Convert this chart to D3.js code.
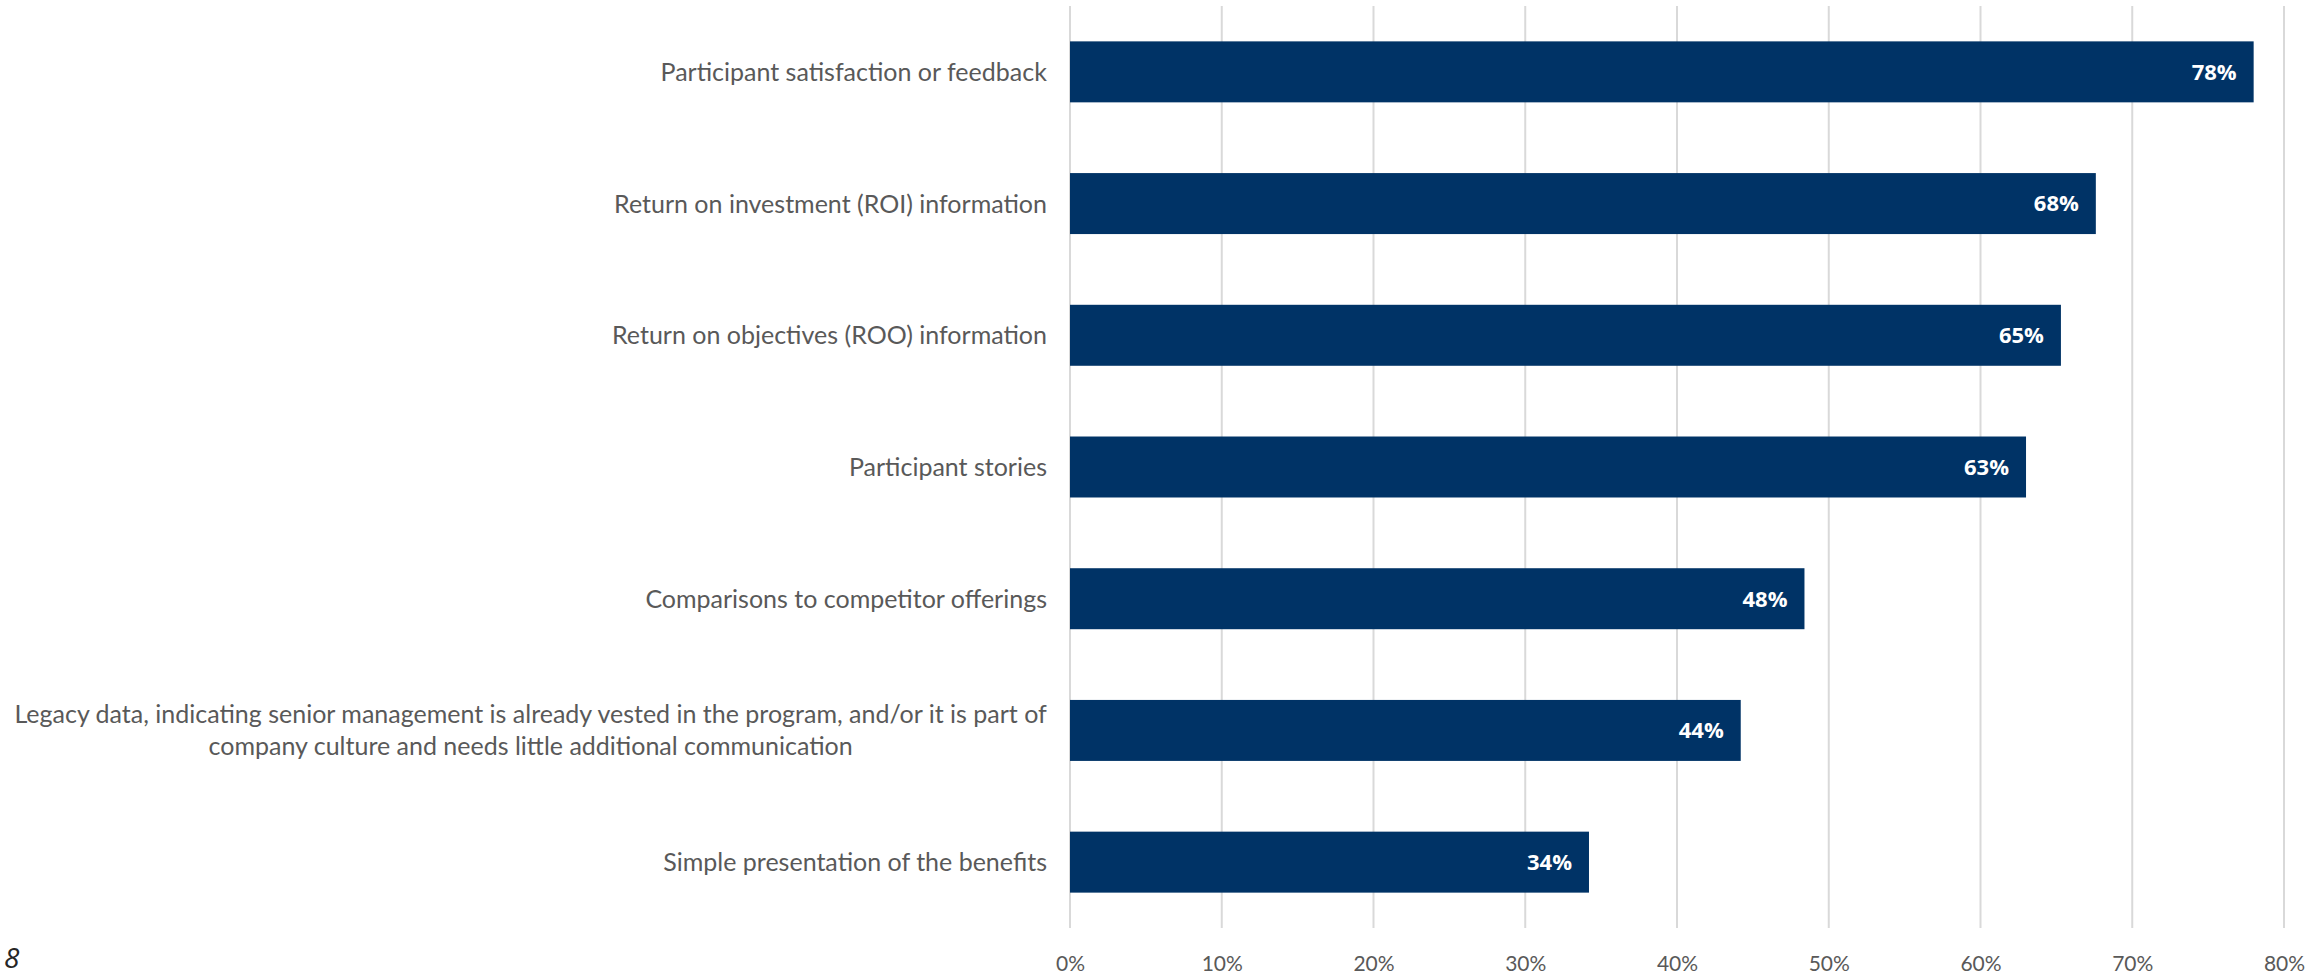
<!DOCTYPE html>
<html>
<head>
<meta charset="utf-8">
<script src="https://cdn.jsdelivr.net/npm/d3@7/dist/d3.min.js"></script>
<style>
  html, body { margin: 0; padding: 0; background: #fff; }
  svg { display: block; }
</style>
</head>
<body>
<svg id="chart" width="2320" height="976"></svg>
<script>
// ---- data ----
const categories = [
  ["Participant satisfaction or feedback"],
  ["Return on investment (ROI) information"],
  ["Return on objectives (ROO) information"],
  ["Participant stories"],
  ["Comparisons to competitor offerings"],
  ["Legacy data, indicating senior management is already vested in the program, and/or it is part of",
   "company culture and needs little additional communication"],
  ["Simple presentation of the benefits"]
];
const values = [78, 67.6, 65.3, 63, 48.4, 44.2, 34.2];
const valueLabels = ["78%", "68%", "65%", "63%", "48%", "44%", "34%"];
const tickValues = [0, 10, 20, 30, 40, 50, 60, 70, 80];
const pageNumber = "8";

(function () {
// ---- layout ----
const svg = d3.select("#chart");
const plotLeft = 1070, plotRight = 2284, plotTop = 6, plotBottom = 928;

const x = d3.scaleLinear().domain([0, 80]).range([plotLeft, plotRight]);
const y = d3.scaleBand()
  .domain(d3.range(categories.length))
  .range([plotTop, plotBottom])
  .paddingInner(0.537)
  .paddingOuter(0.537 / 2);

// gridlines
svg.append("g")
  .selectAll("line")
  .data(tickValues)
  .join("line")
  .attr("x1", d => x(d)).attr("x2", d => x(d))
  .attr("y1", plotTop).attr("y2", plotBottom)
  .attr("stroke", "#d9d9d9")
  .attr("stroke-width", 2);

// x axis labels
const xAxis = d3.axisBottom(x).tickValues(tickValues).tickFormat(d => d + "%").tickSize(0).tickPadding(0);
const gx = svg.append("g").attr("transform", `translate(0, ${plotBottom + 35})`).call(xAxis);
gx.select(".domain").remove();
gx.selectAll("text")
  .attr("fill", "#595959")
  .attr("font-family", "Lato, 'Open Sans', sans-serif")
  .attr("font-size", 21)
  .attr("y", 0)
  .attr("dy", "0.36em");

// bars
svg.append("g")
  .selectAll("rect")
  .data(values)
  .join("rect")
  .attr("x", x(0))
  .attr("y", (d, i) => y(i))
  .attr("width", d => x(d) - x(0))
  .attr("height", y.bandwidth())
  .attr("fill", "#003366");

// value labels
svg.append("g")
  .selectAll("text")
  .data(values)
  .join("text")
  .attr("x", d => x(d) - 17)
  .attr("y", (d, i) => y(i) + y.bandwidth() / 2)
  .attr("dy", "0.36em")
  .attr("text-anchor", "end")
  .attr("fill", "#ffffff")
  .attr("font-family", "'Open Sans', Lato, sans-serif")
  .attr("font-weight", "bold")
  .attr("font-size", 22)
  .text((d, i) => valueLabels[i]);

// category labels (block right-aligned to the axis, lines centered in block)
const catG = svg.append("g");
categories.forEach((lines, i) => {
  const cy = y(i) + y.bandwidth() / 2;
  const lh = 32;
  const t = catG.append("text")
    .attr("fill", "#595959")
    .attr("font-family", "Lato, 'Open Sans', sans-serif")
    .attr("font-size", 25)
    .attr("text-anchor", "middle");
  lines.forEach((ln, k) => {
    t.append("tspan")
      .attr("x", 0)
      .attr("y", cy + (k - (lines.length - 1) / 2) * lh)
      .attr("dy", "0.36em")
      .text(ln);
  });
  const bb = t.node().getBBox();
  t.selectAll("tspan").attr("x", plotLeft - 23 - bb.width / 2);
});

// page number
svg.append("text")
  .attr("x", 4).attr("y", 968)
  .attr("fill", "#262626")
  .attr("font-family", "'Open Sans', sans-serif")
  .attr("font-style", "italic")
  .attr("font-size", 28)
  .text(pageNumber);
})();
</script>
</body>
</html>
